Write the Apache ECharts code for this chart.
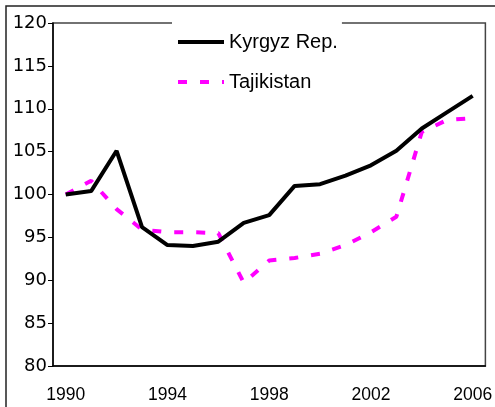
<!DOCTYPE html>
<html>
<head>
<meta charset="utf-8">
<script src="https://cdn.jsdelivr.net/npm/echarts@6/dist/echarts.min.js"></script>
<style>
  html, body { margin: 0; padding: 0; background: #fff; }
  #chart { width: 495px; height: 407px; }
</style>
</head>
<body>
<div id="chart"></div>
<script>
// years on the x axis
const years = ["1990", "1991", "1992", "1993", "1994", "1995", "1996", "1997", "1998",
  "1999", "2000", "2001", "2002", "2003", "2004", "2005", "2006"];

// index values (1990 = 100)
const kyrgyz = [100.0, 100.4, 105.1, 96.2, 94.1, 94.0, 94.5, 96.7, 97.6,
  101.0, 101.2, 102.2, 103.4, 105.1, 107.7, 109.6, 111.5];
const tajik = [100.0, 101.6, 98.3, 95.9, 95.6, 95.6, 95.5, 89.7, 92.3,
  92.6, 93.1, 94.1, 95.6, 97.4, 107.3, 108.7, 108.9];

const chart = echarts.init(document.getElementById("chart"));

chart.setOption({
  animation: false,
  // outer frame of the picture (only left and top edges are visible)
  graphic: [
    {
      type: "rect",
      shape: { x: 6, y: 6, width: 600, height: 600 },
      style: { fill: "none", stroke: "#222", lineWidth: 1.5 },
      silent: true,
    },
  ],
  grid: {
    left: 53,
    right: 5,
    top: 23,
    bottom: 41,
    show: true,
    borderColor: "#444",
    borderWidth: 1.5,
  },
  legend: {
    orient: "vertical",
    left: 172,
    top: 22,
    padding: [10, 4, 10, 4],
    backgroundColor: "#fff",
    itemWidth: 46,
    itemHeight: 20,
    itemGap: 20,
    itemStyle: { opacity: 0 },
    lineStyle: { width: 4 },
    textStyle: {
      fontFamily: "Liberation Sans",
      fontSize: 20,
      lineHeight: 20,
      color: "#000",
    },
    data: [
      { name: "Kyrgyz Rep." },
      { name: "Tajikistan", lineStyle: { type: [9, 13], width: 4 } },
    ],
  },
  xAxis: {
    type: "category",
    data: years,
    boundaryGap: true,
    axisLine: { lineStyle: { color: "#000", width: 1.5 } },
    axisTick: { interval: 0, length: 5, lineStyle: { color: "#000", width: 1 } },
    axisLabel: {
      interval: 3,
      margin: 20,
      fontFamily: "Liberation Sans",
      fontSize: 17.5,
      color: "#000",
    },
    splitLine: { show: false },
  },
  yAxis: {
    type: "value",
    min: 80,
    max: 120,
    interval: 5,
    axisLine: { show: true, lineStyle: { color: "#000", width: 1.5 } },
    axisTick: { show: true, length: 5, lineStyle: { color: "#000", width: 1 } },
    axisLabel: {
      margin: 6,
      fontFamily: "DejaVu Sans",
      fontSize: 18,
      color: "#000",
    },
    splitLine: { show: false },
  },
  series: [
    {
      name: "Kyrgyz Rep.",
      type: "line",
      data: kyrgyz,
      symbol: "none",
      z: 3,
      lineStyle: { color: "#000", width: 4 },
      itemStyle: { color: "#000" },
    },
    {
      name: "Tajikistan",
      type: "line",
      data: tajik,
      symbol: "none",
      z: 2,
      lineStyle: { color: "#ff00ff", width: 4, type: [9, 13] },
      itemStyle: { color: "#ff00ff" },
    },
  ],
});
</script>
</body>
</html>
